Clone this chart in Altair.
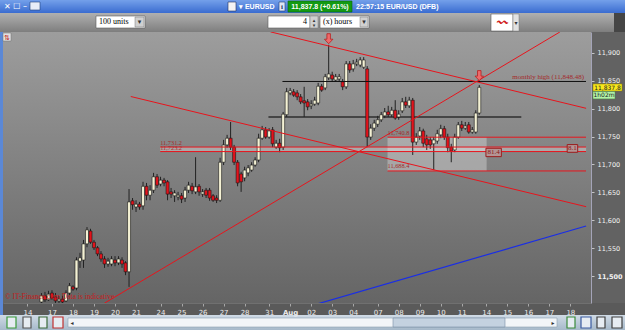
import json
import altair as alt
import pandas as pd

# ---------------- candle data: EUR/USD (x10000), 4-hour candles ----------------
first_candle = 4  # candle index of the first visible bar (Jul 14 = 0)
opens = [
    11454, 11465, 11458, 11470, 11463, 11456, 11459, 11456, 11470, 11481,
    11479, 11527, 11529, 11558, 11581, 11561, 11551, 11540, 11531, 11522,
    11522, 11529, 11524, 11529, 11524, 11508, 11635, 11624, 11629, 11626,
    11661, 11645, 11654, 11678, 11665, 11672, 11669, 11651, 11644, 11642,
    11644, 11640, 11654, 11661, 11651, 11661, 11647, 11654, 11654, 11644,
    11640, 11636, 11704, 11735, 11747, 11731, 11704, 11683, 11676, 11685,
    11690, 11699, 11708, 11747, 11762, 11749, 11762, 11731, 11738, 11731,
    11789, 11828, 11830, 11828, 11821, 11814, 11812, 11805, 11808, 11810,
    11840, 11837, 11855, 11860, 11851, 11853, 11848, 11839, 11880, 11871,
    11880, 11878, 11874, 11871, 11749, 11765, 11772, 11780, 11787, 11794,
    11789, 11797, 11785, 11796, 11812, 11805, 11815, 11740, 11751, 11760,
    11746, 11744, 11737, 11742, 11753, 11764, 11749, 11731, 11726, 11749,
    11771, 11765, 11771, 11758, 11758, 11792]
closes = [
    11465, 11458, 11468, 11461, 11456, 11459, 11454, 11470, 11483, 11477,
    11529, 11533, 11558, 11583, 11561, 11551, 11540, 11531, 11522, 11527,
    11531, 11524, 11531, 11522, 11508, 11633, 11628, 11629, 11624, 11661,
    11645, 11654, 11678, 11663, 11672, 11667, 11647, 11647, 11649, 11645,
    11638, 11654, 11663, 11653, 11660, 11651, 11651, 11645, 11640, 11636,
    11636, 11704, 11735, 11747, 11731, 11704, 11667, 11669, 11690, 11694,
    11699, 11708, 11747, 11762, 11749, 11760, 11737, 11738, 11730, 11790,
    11830, 11832, 11824, 11821, 11812, 11810, 11803, 11808, 11815, 11840,
    11833, 11857, 11862, 11853, 11857, 11857, 11839, 11880, 11869, 11880,
    11883, 11887, 11887, 11749, 11765, 11774, 11780, 11789, 11794, 11789,
    11797, 11783, 11790, 11812, 11806, 11815, 11740, 11749, 11760, 11738,
    11735, 11735, 11744, 11755, 11764, 11749, 11730, 11724, 11749, 11771,
    11765, 11769, 11758, 11762, 11792, 11838]
highs = [
    11470, 11472, 11474, 11475, 11470, 11465, 11465, 11475, 11488, 11484,
    11534, 11542, 11565, 11588, 11585, 11565, 11554, 11545, 11536, 11533,
    11536, 11536, 11536, 11534, 11527, 11656, 11640, 11636, 11633, 11669,
    11667, 11663, 11685, 11683, 11678, 11676, 11672, 11658, 11654, 11651,
    11649, 11660, 11669, 11667, 11713, 11665, 11656, 11658, 11658, 11647,
    11645, 11712, 11744, 11753, 11776, 11735, 11708, 11687, 11696, 11699,
    11704, 11713, 11755, 11769, 11767, 11765, 11767, 11744, 11746, 11794,
    11837, 11837, 11835, 11833, 11826, 11839, 11817, 11815, 11821, 11846,
    11844, 11862, 11914, 11866, 11862, 11862, 11853, 11885, 11885, 11887,
    11889, 11892, 11892, 11876, 11772, 11780, 11787, 11794, 11801, 11805,
    11803, 11815, 11797, 11819, 11821, 11821, 11819, 11756, 11767, 11764,
    11753, 11749, 11749, 11762, 11771, 11769, 11755, 11737, 11755, 11776,
    11778, 11776, 11776, 11767, 11797, 11842]
lows = [
    11452, 11454, 11456, 11458, 11452, 11452, 11452, 11454, 11466, 11474,
    11475, 11515, 11515, 11552, 11558, 11547, 11536, 11526, 11515, 11517,
    11518, 11518, 11520, 11515, 11502, 11481, 11619, 11615, 11619, 11619,
    11636, 11636, 11649, 11658, 11661, 11661, 11636, 11640, 11633, 11636,
    11631, 11633, 11649, 11647, 11647, 11644, 11642, 11640, 11635, 11633,
    11631, 11633, 11699, 11730, 11726, 11699, 11661, 11651, 11670, 11679,
    11687, 11696, 11704, 11744, 11746, 11746, 11731, 11728, 11722, 11726,
    11785, 11824, 11821, 11815, 11808, 11785, 11797, 11799, 11805, 11806,
    11830, 11833, 11851, 11848, 11848, 11848, 11833, 11835, 11864, 11866,
    11876, 11874, 11871, 11731, 11744, 11760, 11767, 11776, 11783, 11785,
    11785, 11780, 11780, 11792, 11801, 11801, 11717, 11735, 11744, 11731,
    11726, 11728, 11690, 11737, 11747, 11744, 11722, 11704, 11722, 11746,
    11760, 11762, 11755, 11755, 11755, 11789]

# x axis: candle index of each day start and its label
day_ticks = [0, 7, 13, 19, 25, 31, 38, 44, 50, 56, 62, 69, 75, 81, 87, 93,
             100, 106, 112, 118, 124, 131, 137, 143, 149, 155]
day_labels = ["14", "17", "18", "19", "20", "21", "24", "25", "26", "27", "28",
              "31", "Aug", "02", "03", "04", "07", "08", "09", "10", "11",
              "14", "15", "16", "17", "18"]
price_ticks = [11500, 11550, 11600, 11650, 11700, 11750, 11800, 11850, 11900]

# horizontal drawing-tool levels
red_levels = [11748.8, 11731.2, 11723.1, 11688.4]
red_level_from = [102.8, 37.9, 37.9, 102.8]
monthly_high = 11848.48
monthly_high_from = 72.8
pivot_level = 11785
pivot_from, pivot_to = 68.8, 141.0

# trend lines (start idx, start price, end idx, end price)
red_trend_x1 = [69.4, 29.5, 22.0]
red_trend_p1 = [11937.2, 11821.6, 11452.0]
red_trend_x2 = [159.5, 159.5, 152.0]
red_trend_p2 = [11800.5, 11624.5, 11937.0]
blue_trend = [81.7, 11448.6, 159.5, 11590.0]

# zones
zone_band = [37.9, 159.5, 11731.2, 11723.1]
range_box = [102.8, 131.1, 11748.8, 11688.4]

# annotations
upper_labels = ["11,731.2", "11,740.8", "11,688.4"]
upper_label_x = [37.9, 102.8, 102.8]
upper_label_p = [11731.2, 11748.8, 11688.4]
lower_label = "11,723.2"
lower_label_x = 37.9
lower_label_p = 11723.1
tag_text = ["8.1", "81.4"]
tag_x1 = [154.1, 130.9]
tag_x2 = [157.1, 135.3]
tag_p1 = [11735.6, 11729.0]
tag_p2 = [11721.8, 11714.0]
arrow_idx = [86, 129]
arrow_price = [11925, 11859]
price_now = 11837.8
countdown = "1h02m"

X0, X1 = -5.557, 159.47
P0, P1 = 11452.2, 11937.0
W, H = 588, 271

# ---------------- build chart ----------------
candles = pd.DataFrame({
    "idx": list(range(first_candle, first_candle + len(opens))),
    "open": opens, "high": highs, "low": lows, "close": closes})
candles["dir"] = ["up" if c >= o else "down" for o, c in zip(opens, closes)]

xscale = alt.Scale(domain=[X0, X1], nice=False, zero=False)
yscale = alt.Scale(domain=[P0, P1], nice=False, zero=False)

label_expr = "%s[indexof(%s, datum.value)]" % (json.dumps(day_labels), json.dumps(day_ticks))
xaxis = alt.Axis(values=day_ticks, labelExpr=label_expr, title=None, grid=False,
                 labelColor="#ececec", labelFont="DejaVu Sans", labelFontSize=7,
                 labelFontWeight={"expr": "datum.value == 75 ? 'bold' : 'normal'"},
                 tickSize=3, tickColor="#a8a8a8", domainColor="#707070",
                 labelPadding=2, labelOverlap=False, labelFlush=False, zindex=2)
yaxis = alt.Axis(values=price_ticks, format=",.0f", orient="right", title=None, grid=False,
                 labelColor="#f2f2f2", labelFont="DejaVu Sans", labelFontSize=6.5,
                 labelFontWeight={"expr": "datum.value == 11500 ? 'bold' : 'normal'"},
                 tickSize=3, tickColor="#c4c4c4", domainColor="#a4a4b8",
                 labelPadding=3, zindex=2)


def X(f):
    return alt.X(f, type="quantitative", scale=xscale, axis=xaxis)


def Y(f):
    return alt.Y(f, type="quantitative", scale=yscale, axis=yaxis)


one = pd.DataFrame({"k": [0]})


def box(x, x2, y, y2, **kw):
    return alt.Chart(one).mark_rect(**kw).encode(
        x=alt.value(x), x2=alt.value(x2), y=alt.value(y), y2=alt.value(y2))


def txt(x, y, s, **kw):
    return alt.Chart(one).mark_text(**kw).encode(
        x=alt.value(x), y=alt.value(y), text=alt.value(s))


def grad(c0, c1):
    return alt.Gradient(gradient="linear", x1=0, x2=0, y1=0, y2=1,
                        stops=[alt.GradientStop(color=c0, offset=0),
                               alt.GradientStop(color=c1, offset=1)])


layers = []
# plot background + frame pieces
layers.append(box(0, W, 0, H, fill=grad("#9d9d9d", "#656565")))
layers.append(box(W, 622, 0, H, fill="#626262"))
layers.append(box(-3, 0, -19, 283, fill="#5b88d6"))
# title bar
layers.append(box(-3, 622, -32, -19, fill=grad("#74a0ea", "#3a6cd0")))
layers.append(txt(1, -25.5, "✕ ☐ –", font="DejaVu Sans", fontSize=8, color="white", align="left"))
layers.append(box(27, 37, -30, -22, fill="#e8eef8", stroke="#20407a", strokeWidth=0.6))
layers.append(box(225, 233, -30, -21, fill="#f4f4f4", stroke="#203060", strokeWidth=0.6))
layers.append(txt(236, -25.5, "▾ EURUSD", font="Liberation Sans", fontSize=7, fontWeight="bold",
                  color="white", align="left"))
layers.append(box(276, 282, -30, -21, fill="#dfe6f3", stroke="#20407a", strokeWidth=0.6))
layers.append(txt(279, -25.5, "i", font="Liberation Serif", fontSize=7, fontWeight="bold",
                  color="#203060"))
layers.append(box(285, 349, -31, -20, fill="#139a13", stroke="#0a640a", strokeWidth=0.6))
layers.append(txt(317, -25.5, "11,837.8 (+0.61%)", font="Liberation Sans", fontSize=7,
                  fontWeight="bold", color="white"))
layers.append(txt(353, -25.5, "22:57:15 EUR/USD (DFB)", font="Liberation Sans", fontSize=7,
                  fontWeight="bold", color="white", align="left"))
# toolbar
layers.append(box(-3, 622, -19, 0, fill=grad("#b0b0b0", "#7e7e7e")))
layers.append(box(93, 142, -16, -4, fill="white", stroke="#5a5a5a", strokeWidth=0.6))
layers.append(box(132, 141, -15, -5, fill="#d0d0d0", stroke="#7a7a7a", strokeWidth=0.5))
layers.append(txt(96, -10, "100 units", font="Liberation Serif", fontSize=8, color="black", align="left"))
layers.append(txt(136.5, -10, "▾", font="DejaVu Sans", fontSize=7, color="#333"))
layers.append(box(265, 307, -16, -4, fill="white", stroke="#5a5a5a", strokeWidth=0.6))
layers.append(box(307, 315, -16, -4, fill="#d0d0d0", stroke="#7a7a7a", strokeWidth=0.5))
layers.append(txt(304, -10, "4", font="Liberation Serif", fontSize=8, color="black", align="right"))
layers.append(txt(311, -12.5, "▴", font="DejaVu Sans", fontSize=5, color="#333"))
layers.append(txt(311, -7.5, "▾", font="DejaVu Sans", fontSize=5, color="#333"))
layers.append(box(317, 366, -16, -4, fill="white", stroke="#5a5a5a", strokeWidth=0.6))
layers.append(box(357, 365, -15, -5, fill="#d0d0d0", stroke="#7a7a7a", strokeWidth=0.5))
layers.append(txt(320, -10, "(x) hours", font="Liberation Serif", fontSize=8, color="black", align="left"))
layers.append(txt(361, -10, "▾", font="DejaVu Sans", fontSize=7, color="#333"))
layers.append(box(488, 510, -18, -1, fill="white", stroke="#5a5a5a", strokeWidth=0.6))
layers.append(box(510, 516, -18, -1, fill="#e2e2e2", stroke="#7a7a7a", strokeWidth=0.5))
layers.append(txt(513, -9.5, "▾", font="DejaVu Sans", fontSize=6, color="#333"))
layers.append(txt(499, -9.5, "〰", font="DejaVu Sans", fontSize=11, color="#d02020"))
layers.append(box(611, 622, -19, 0, fill="#454545"))
# bottom scrollbar
layers.append(box(-3, 622, 283, 298, fill=grad("#d0dbe6", "#a6b9ca")))
layers.append(box(65, 554, 286, 295, fill="#f2f5f8", stroke="#8c9db0", strokeWidth=0.6))
layers.append(box(390, 502, 286, 295, fill="#c4d2e0", stroke="#7b8fa5", strokeWidth=0.6))
layers.append(txt(69, 290.5, "◂", font="DejaVu Sans", fontSize=6, color="#333"))
layers.append(txt(550, 290.5, "▸", font="DejaVu Sans", fontSize=6, color="#333"))
for (a, b, c) in [(4, 13, "#3b9a3b"), (20, 28, "#555555"), (36, 44, "#3a6a3a"),
                  (50, 60, "#c03030"), (564, 572, "#3a8a3a"), (578, 588, "#3a5aa0"),
                  (594, 602, "#404040"), (609, 619, "#404040")]:
    layers.append(box(a, b, 285, 296, fill="#e6ecf2", stroke=c, strokeWidth=1.2))

# zones
zb = pd.DataFrame({"x": [zone_band[0]], "x2": [zone_band[1]], "p": [zone_band[2]], "p2": [zone_band[3]]})
layers.append(alt.Chart(zb).mark_rect(fill="white", opacity=0.3, clip=True).encode(
    x=X("x"), x2="x2", y=Y("p"), y2="p2"))
rb = pd.DataFrame({"x": [range_box[0]], "x2": [range_box[1]], "p": [range_box[2]], "p2": [range_box[3]]})
layers.append(alt.Chart(rb).mark_rect(fill="white", opacity=0.3, clip=True).encode(
    x=X("x"), x2="x2", y=Y("p"), y2="p2"))

# pivot grey line (behind candles)
pv = pd.DataFrame({"x": [pivot_from], "x2": [pivot_to], "p": [pivot_level]})
layers.append(alt.Chart(pv).mark_rule(color="#383838", strokeWidth=2, opacity=0.85).encode(
    x=X("x"), x2="x2", y=Y("p")))

# candles
layers.append(alt.Chart(candles).mark_rule(color="#222222", strokeWidth=1).encode(
    x=X("idx"), y=Y("low"), y2="high"))
layers.append(alt.Chart(candles).mark_bar(size=3, stroke="#1a1a1a", strokeWidth=0.6).encode(
    x=X("idx"), y=Y("open"), y2="close",
    fill=alt.Fill("dir:N", scale=alt.Scale(domain=["up", "down"], range=["#f4f1d4", "#e3121b"]),
                  legend=None)))

# horizontal levels
rl = pd.DataFrame({"x": red_level_from, "p": red_levels})
rl["x2"] = X1
layers.append(alt.Chart(rl).mark_rule(color="#e8141c", strokeWidth=1).encode(
    x=X("x"), x2="x2", y=Y("p")))
mh = pd.DataFrame({"x": [monthly_high_from], "x2": [X1], "p": [monthly_high]})
layers.append(alt.Chart(mh).mark_rule(color="#101010", strokeWidth=1).encode(
    x=X("x"), x2="x2", y=Y("p")))

# trend lines
tl = pd.DataFrame({"x": red_trend_x1, "p": red_trend_p1, "x2": red_trend_x2, "p2": red_trend_p2})
layers.append(alt.Chart(tl).mark_rule(color="#e8141c", strokeWidth=1, clip=True).encode(
    x=X("x"), y=Y("p"), x2="x2", y2="p2"))
bl = pd.DataFrame({"x": [blue_trend[0]], "p": [blue_trend[1]], "x2": [blue_trend[2]], "p2": [blue_trend[3]]})
layers.append(alt.Chart(bl).mark_rule(color="#1a2ee6", strokeWidth=1.2, clip=True).encode(
    x=X("x"), y=Y("p"), x2="x2", y2="p2"))

# level labels
ul = pd.DataFrame({"x": upper_label_x, "p": upper_label_p, "t": upper_labels})
layers.append(alt.Chart(ul).mark_text(align="left", baseline="bottom", dy=-1.5, font="Liberation Serif",
                                      fontSize=6.3, color="#a42a2a").encode(
    x=X("x"), y=Y("p"), text="t:N"))
lw = pd.DataFrame({"x": [lower_label_x], "p": [lower_label_p], "t": [lower_label]})
layers.append(alt.Chart(lw).mark_text(align="left", baseline="bottom", dy=-0.2, font="Liberation Serif",
                                      fontSize=6.3, color="#a42a2a").encode(
    x=X("x"), y=Y("p"), text="t:N"))
mt = pd.DataFrame({"x": [X1], "p": [monthly_high], "t": ["monthly high (11,848.48)"]})
layers.append(alt.Chart(mt).mark_text(align="right", baseline="bottom", dx=-2, dy=-1,
                                      font="Liberation Serif", fontSize=7, color="#a42a2a").encode(
    x=X("x"), y=Y("p"), text="t:N"))

# tag boxes
tg = pd.DataFrame({"x": tag_x1, "x2": tag_x2, "p": tag_p1, "p2": tag_p2, "t": tag_text})
tg["xm"] = (tg["x"] + tg["x2"]) / 2
tg["pm"] = (tg["p"] + tg["p2"]) / 2
layers.append(alt.Chart(tg).mark_rect(fill="#b39494", stroke="#9a1c1c", strokeWidth=1).encode(
    x=X("x"), x2="x2", y=Y("p"), y2="p2"))
layers.append(alt.Chart(tg).mark_text(font="Liberation Serif", fontSize=7, color="#8a1414").encode(
    x=X("xm"), y=Y("pm"), text="t:N"))

# arrows
ar = pd.DataFrame({"x": arrow_idx, "p": arrow_price})
arrow_shape = "M-0.35,-1L0.35,-1L0.35,0.1L0.85,0.1L0,1L-0.85,0.1L-0.35,0.1Z"
layers.append(alt.Chart(ar).mark_point(shape=arrow_shape, size=100, filled=True, fill="#ee6a6a",
                                       stroke="#b82020", strokeWidth=0.8, opacity=1).encode(
    x=X("x"), y=Y("p")))

# watermark
layers.append(txt(2, 265, "© IT-Finance.com Data is indicative", font="Liberation Serif", fontSize=7.5,
                  color="#c42020", align="left"))

# current price tags on the right axis
pn = pd.DataFrame({"p": [price_now], "t": ["11,837.8"], "c": [countdown]})
pn["pt"] = pn["p"] + 6.3
pn["pb"] = pn["p"] - 6.3
pn["ct"] = pn["p"] - 7.3
pn["cb"] = pn["p"] - 20.5
pn["cm"] = (pn["ct"] + pn["cb"]) / 2
layers.append(alt.Chart(pn).mark_rect(fill="#f8e81c", stroke="#8a7a00", strokeWidth=0.5).encode(
    x=alt.value(590), x2=alt.value(619), y=Y("pt"), y2="pb"))
layers.append(alt.Chart(pn).mark_text(font="DejaVu Sans", fontSize=6, dy=0.8, color="#202020").encode(
    x=alt.value(604.5), y=Y("p"), text="t:N"))
layers.append(alt.Chart(pn).mark_rect(fill="#b2f2a8", stroke="#4a8a40", strokeWidth=0.5).encode(
    x=alt.value(590), x2=alt.value(612), y=Y("ct"), y2="cb"))
layers.append(alt.Chart(pn).mark_text(font="DejaVu Sans", fontSize=6, color="#202020").encode(
    x=alt.value(601), y=Y("cm"), text="c:N"))

# small tool icon at top left of the plot
layers.append(box(0, 8, 1, 9, fill="#e0e0e0", stroke="#707070", strokeWidth=0.5))
layers.append(txt(4, 5.5, "⇅", font="DejaVu Sans", fontSize=7, color="#c02020"))

chart = alt.layer(*layers).properties(
    width=W, height=H,
    autosize=alt.AutoSizeParams(type="none"),
    padding={"left": 3, "top": 32, "right": 34, "bottom": 27},
).configure(background="#5a5a5a").configure_view(stroke=None)

chart.save("out.html", embed_options={"renderer": "svg", "actions": False})
